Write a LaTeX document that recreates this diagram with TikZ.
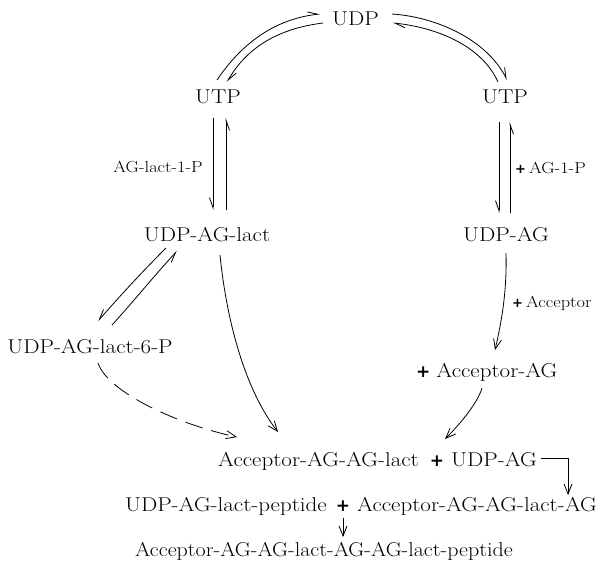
\documentclass[tikz,border=0pt]{standalone}
\usepackage{fontspec}
\usetikzlibrary{arrows.meta}
\newfontfamily\plusfont{DejaVu Sans}
\newcommand{\wtxt}[1]{\scalebox{1.15}[1]{#1}}
\newcommand{\pl}{{\plusfont\bfseries\fontsize{17}{20}\selectfont +}}
\newcommand{\spl}{{\plusfont\bfseries\fontsize{13}{15}\selectfont +}}
\begin{document}
\begin{tikzpicture}[x=1pt,y=-1pt,
  lbl/.style={inner sep=0pt,anchor=base,font=\fontsize{20}{24}\selectfont},
  slbl/.style={inner sep=0pt,anchor=base,font=\fontsize{16}{19}\selectfont},
  ln/.style={line width=0.8pt},
  hp/.style={ln,-{Straight Barb[harpoon,length=10pt,width=7pt]}},
  hps/.style={ln,-{Straight Barb[harpoon,swap,length=10pt,width=7pt]}},
  ar/.style={ln,-{Straight Barb[length=10pt,width=8pt]}}]
\useasboundingbox (0,0) rectangle (605,563);
% nodes
\node[lbl,anchor=base west] (udp) at (332,25) {\wtxt{UDP}};
\node[lbl] (utpL) at (218,103) {\wtxt{UTP}};
\node[lbl] (utpR) at (505,103) {\wtxt{UTP}};
\node[slbl,anchor=base east] (aglact) at (203,172) {\wtxt{AG-lact-1-P}};
\node[slbl,anchor=base west] (ag1p) at (515,173) {\spl\hspace{3pt}\wtxt{AG-1-P}};
\node[lbl] (udpaglact) at (207,241) {\wtxt{UDP-AG-lact}};
\node[lbl] (udpag) at (506,241) {\wtxt{UDP-AG}};
\node[slbl,anchor=base west] (accplus) at (512,307) {\spl\hspace{3pt}\wtxt{Acceptor}};
\node[lbl] (sixp) at (90,353) {\wtxt{UDP-AG-lact-6-P}};
\node[lbl,anchor=base west] (accag) at (416,377) {\pl\hspace{6pt}\wtxt{Acceptor-AG}};
\node[lbl,anchor=base west] (aagl) at (218,466) {\wtxt{Acceptor-AG-AG-lact}};
\node[lbl] (plusA) at (437,466) {\pl};
\node[lbl,anchor=base east] (udpagB) at (537,466) {\wtxt{UDP-AG}};
\node[lbl,anchor=base east] (pept) at (327,511) {\wtxt{UDP-AG-lact-peptide}};
\node[lbl] (plusB) at (343,511) {\pl};
\node[lbl,anchor=base west] (aaglag) at (357,511) {\wtxt{Acceptor-AG-AG-lact-AG}};
\node[lbl] (final) at (324,556) {\scalebox{1.1}[1]{Acceptor-AG-AG-lact-AG-AG-lact-peptide}};
% endpoints
\coordinate (a1) at (217,80);  \coordinate (a2) at (320,14);
\coordinate (b1) at (323,23);  \coordinate (b2) at (227,82);
\coordinate (c1) at (392,14);  \coordinate (c2) at (507,80);
\coordinate (d1) at (498,82);  \coordinate (d2) at (393,23);
% top arcs
\draw[hp] (a1) .. controls (242,43) and (275,19) .. (a2);
\draw[hp] (b1) .. controls (283,28) and (249,44) .. (b2);
\draw[hp] (c1) .. controls (437,17) and (487,40) .. (c2);
\draw[hp] (d1) .. controls (481,44) and (433,27) .. (d2);
% vertical pairs
\coordinate (p1) at (213,118); \coordinate (p2) at (213,210);
\coordinate (q1) at (226,210); \coordinate (q2) at (226,118);
\coordinate (r1) at (499,122); \coordinate (r2) at (499,213);
\coordinate (s1) at (510,213); \coordinate (s2) at (510,122);
\draw[hps] (p1) -- (p2);
\draw[hps] (q1) -- (q2);
\draw[hps] (r1) -- (r2);
\draw[hps] (s1) -- (s2);
% diagonal pair
\coordinate (e1) at (166,248); \coordinate (e2) at (98,321);
\coordinate (f1) at (112,325); \coordinate (f2) at (177,251);
\draw[hps] (e1) .. controls (140,274) and (120,296) .. (e2);
\draw[hps] (f1) .. controls (133,302) and (154,276) .. (f2);
% curved arrows to Acceptor-AG-AG-lact
\coordinate (g1) at (220,255); \coordinate (g2) at (278,432);
\draw[ar] (g1) .. controls (226,315) and (243,387) .. (g2);
\coordinate (h1) at (98,363); \coordinate (h2) at (237,437);
\draw[ar,dash pattern=on 18pt off 9pt] (h1) .. controls (108,393) and (180,425) .. (h2);
% right chain
\coordinate (i1) at (506,253); \coordinate (i2) at (495,350);
\draw[ar] (i1) .. controls (507,290) and (502,320) .. (i2);
\coordinate (j1) at (482,388); \coordinate (j2) at (445,439);
\draw[ar] (j1) .. controls (478,402) and (462,422) .. (j2);
% elbow
\coordinate (k1) at (541,458); \coordinate (k2) at (568,495);
\draw[ar] (k1) -| (k2);
% bottom arrow
\coordinate (m1) at (343,518); \coordinate (m2) at (343,537);
\draw[ar] (m1) -- (m2);
\end{tikzpicture}
\end{document}
